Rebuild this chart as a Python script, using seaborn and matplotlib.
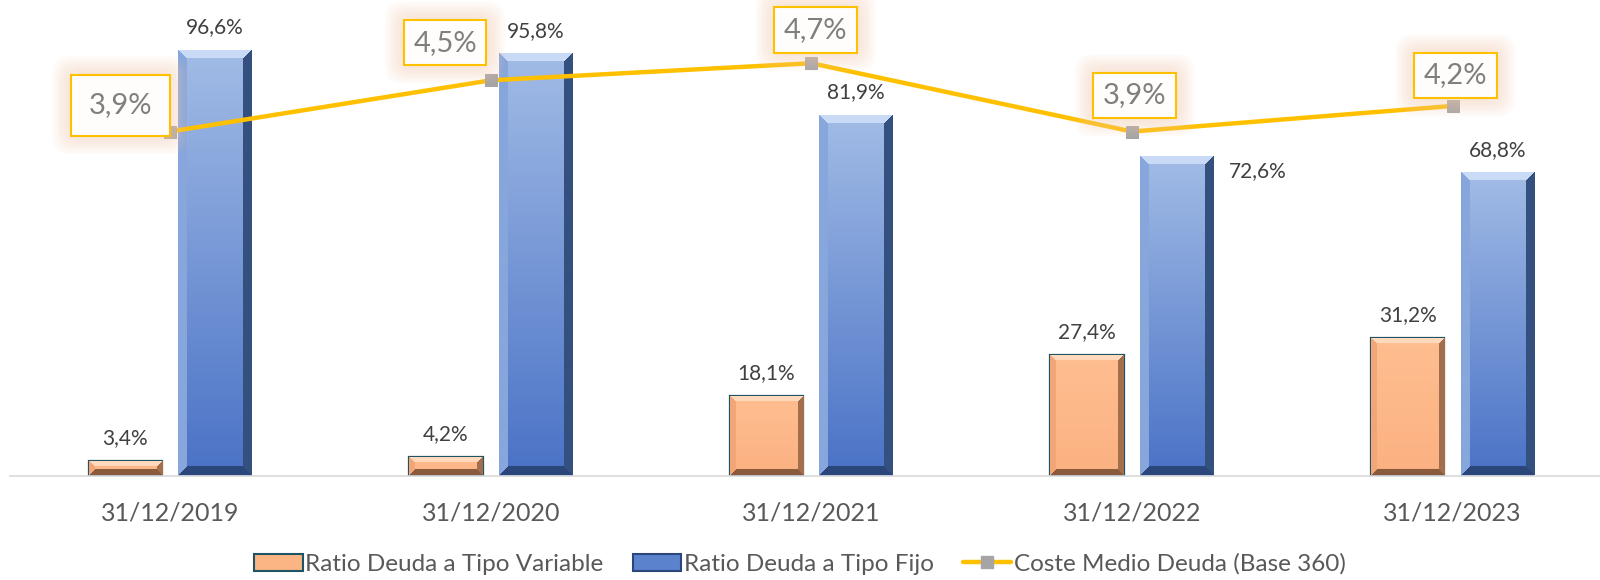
import numpy as np
import pandas as pd
import seaborn as sns
import matplotlib.pyplot as plt
from matplotlib.patches import Patch
from matplotlib.lines import Line2D
from matplotlib.colors import to_rgb

fechas = ["31/12/2019", "31/12/2020", "31/12/2021", "31/12/2022", "31/12/2023"]
ratio_variable = [3.4, 4.2, 18.1, 27.4, 31.2]
ratio_fijo = [96.6, 95.8, 81.9, 72.6, 68.8]
coste_medio = [3.9, 4.5, 4.7, 3.9, 4.2]

serie_var = "Ratio Deuda a Tipo Variable"
serie_fijo = "Ratio Deuda a Tipo Fijo"
serie_coste = "Coste Medio Deuda (Base 360)"

def pct(v):
    return f"{v:.1f}".replace(".", ",") + "%"

df = pd.DataFrame({
    "fecha": fechas * 2,
    "serie": [serie_var] * len(fechas) + [serie_fijo] * len(fechas),
    "valor": ratio_variable + ratio_fijo,
})

sns.set_style("white")
plt.rcParams["font.family"] = ["Lato", "DejaVu Sans"]

fig = plt.figure(figsize=(16, 5.8), dpi=100)
ax = fig.add_axes([10 / 1600, 104.5 / 580, 1590 / 1600, 455.5 / 580])

sns.barplot(data=df, x="fecha", y="valor", hue="serie", order=fechas,
            hue_order=[serie_var, serie_fijo], palette=["#FBB585", "#5B82CC"],
            width=0.56, gap=0.18, ax=ax, legend=False, saturation=1)

ymax = 103.4
xmax = len(fechas) - 0.54
ax.set_ylim(0, ymax)
ax.set_xlim(-0.5, xmax)
ax.set_yticks([])
ax.set_ylabel("")
ax.set_xlabel("")
for s in ["top", "right", "left"]:
    ax.spines[s].set_visible(False)
ax.spines["bottom"].set_color("#D9D9D9")
ax.spines["bottom"].set_linewidth(1.2)
ax.tick_params(axis="x", length=0, pad=19, labelsize=18, labelcolor="#595959")


def bevel(patch, top, bottom, hi, side_l, side_r, low, bw=7):
    bb = patch.get_bbox()
    (x0, y0), (x1, y1) = ax.transData.transform([[bb.x0, bb.y0], [bb.x1, bb.y1]])
    w = max(int(round(x1 - x0)), 2)
    h = max(int(round(y1 - y0)), 2)
    t = np.linspace(0, 1, h)[:, None, None]
    img = np.array(to_rgb(top)) * (1 - t) + np.array(to_rgb(bottom)) * t
    img = np.repeat(img, w, axis=1)
    yy, xx = np.mgrid[0:h, 0:w]
    b = min(bw, h // 3 + 1)
    d = np.stack([yy, xx, w - 1 - xx, h - 1 - yy])
    side = d.argmin(axis=0)
    m = d.min(axis=0) < b
    for k, c in enumerate([hi, side_l, side_r, low]):
        sel = m & (side == k)
        img[sel] = np.array(to_rgb(c))
    im = ax.imshow(img, extent=(bb.x0, bb.x1, bb.y0, bb.y1), aspect="auto",
                   interpolation="bilinear", zorder=patch.get_zorder() + 0.1)
    im.set_clip_path(patch)


n = len(fechas)
for i, p in enumerate(ax.patches[:]):
    if i < n:
        p.set_edgecolor("#1E5466")
        p.set_linewidth(1.6)
        bevel(p, "#FFBE90", "#FBB182", "#FFD9BC", "#F3A677", "#A36E4B", "#8A5A3C", bw=6)
    else:
        p.set_edgecolor("none")
        bevel(p, "#A2BCE6", "#4A72C6", "#C9DBF6", "#86A6DC", "#34507F", "#2A467A", bw=9)

ax.set_xlim(-0.5, xmax)
ax.set_ylim(0, ymax)

# etiquetas de barras
bar_off = [(0, 9)] * (2 * n)
bar_off[n + 3] = (58, -18)
for i, p in enumerate(ax.patches):
    val = (ratio_variable + ratio_fijo)[i]
    ax.annotate(pct(val), (p.get_x() + p.get_width() / 2, p.get_height()),
                xytext=bar_off[i], textcoords="offset points", ha="center",
                va="bottom", fontsize=15, color="#404040")

# linea coste medio en eje secundario
ax2 = ax.twinx()
sns.lineplot(x=np.arange(n), y=coste_medio, ax=ax2, color="#FFC000", linewidth=3.2,
             marker="s", markersize=9, markerfacecolor="#A5A5A5",
             markeredgecolor="#A5A5A5", zorder=5)
ax2.set_ylim(-0.128, 5.206)
ax2.set_yticks([])
for s in ax2.spines.values():
    s.set_visible(False)
ax2.set_xlim(-0.5, xmax)

line_off = [(-36, 19), (-33, 27), (3, 24), (2, 26), (2, 22)]
line_pad = [0.6, 0.33, 0.33, 0.33, 0.33]
for i, v in enumerate(coste_medio):
    for k in range(7):
        ax2.annotate(pct(v), (i, v), xytext=line_off[i], textcoords="offset points",
                     ha="center", va="center", fontsize=21, color="none", zorder=6,
                     bbox=dict(boxstyle="round,pad=%.2f,rounding_size=0.6" % (line_pad[i] + 0.09 * (7 - k)),
                               facecolor="#F8CBAD", edgecolor="none", alpha=0.08))
    ax2.annotate(pct(v), (i, v), xytext=line_off[i], textcoords="offset points",
                 ha="center", va="center", fontsize=21, color="#7F7F7F", zorder=7,
                 bbox=dict(boxstyle="square,pad=%.2f" % line_pad[i], facecolor="#FFFDFB",
                           edgecolor="#FFC000", linewidth=1.5))

handles = [
    Patch(facecolor="#FBB585", edgecolor="#1E5466", linewidth=1.5),
    Patch(facecolor="#5B82CC", edgecolor="#2A467A", linewidth=1.5),
    Line2D([0], [0], color="#FFC000", linewidth=3.2, marker="s", markersize=8,
           markerfacecolor="#A5A5A5", markeredgecolor="#A5A5A5"),
]
fig.legend(handles, [serie_var, serie_fijo, serie_coste], loc="center",
           bbox_to_anchor=(0.5, 0.028), ncol=3, frameon=False, fontsize=17.5,
           handlelength=2.0, handleheight=0.7, handletextpad=0.1,
           columnspacing=1.2, labelcolor="#595959")

fig.savefig("out.png", dpi=100)
